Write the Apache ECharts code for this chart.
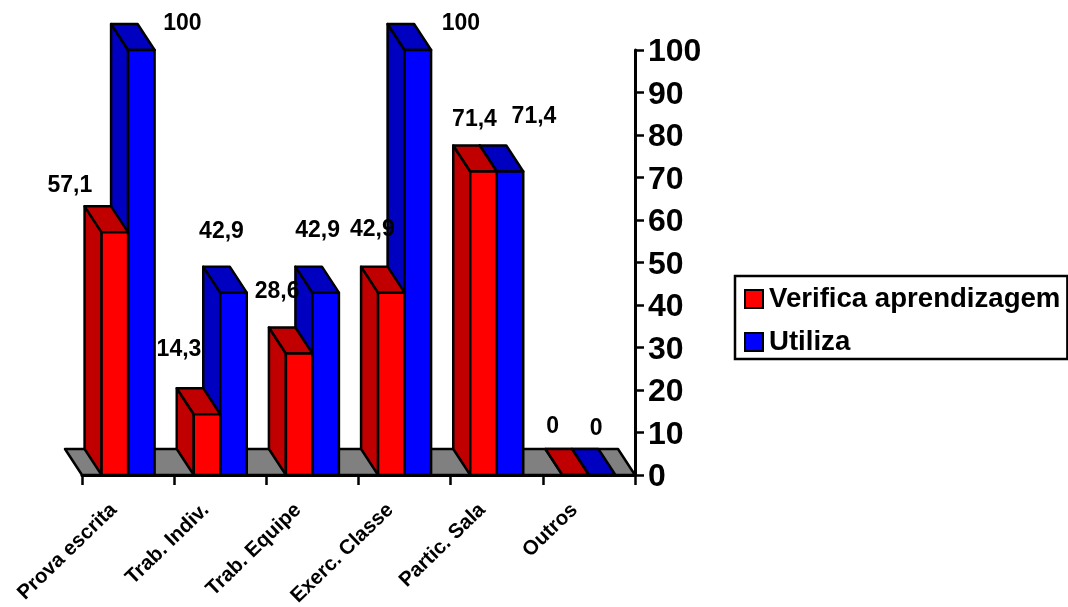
<!DOCTYPE html>
<html><head><meta charset="utf-8">
<style>html,body{margin:0;padding:0;background:#fff}#c{width:1068px;height:607px}</style>
<script src="https://cdn.jsdelivr.net/npm/echarts@6/dist/echarts.min.js"></script>
</head><body><div id="c"></div>
<script>
const categories = ['Prova escrita','Trab. Indiv.','Trab. Equipe','Exerc. Classe','Partic. Sala','Outros'];
const verifica = [57.1,14.3,28.6,42.9,71.4,0];
const utiliza = [100,42.9,42.9,100,71.4,0];
const valueTicks = {min:0,max:100,interval:10};

// label placement relative to each bar's front top centre (layout, not data)
const nudgeVerifica = [[-45,-47],[-28,-65],[-22,-62],[-19,-63],[-9,-52],[-23,-48]];
const nudgeUtiliza = [[41,-26],[-12,-61],[-8,-62],[43,-26],[24,-55],[-6,-46]];

const FONT = '"Liberation Sans", Arial, sans-serif';
const DX = -17, DY = -26, BAR_RATIO = 0.2875;

function fmt(v){ return String(v).replace('.',','); }
function bar3d(side, front, dark, nudge){
  return function(params, api){
    const i = api.value(0), v = api.value(1);
    const p = api.coord([i, v]), b = api.coord([i, 0]);
    const w = api.size([1,0])[0] * BAR_RATIO;
    const x0 = side < 0 ? p[0]-w : p[0], x1 = x0 + w;
    const yt = p[1], yb = b[1];
    const st = (fill)=>({fill, stroke:'#000', lineWidth:2.5, lineJoin:'round'});
    const n = nudge[i];
    return {type:'group', children:[
      {type:'polygon', shape:{points:[[x0,yt],[x0,yb],[x0+DX,yb+DY],[x0+DX,yt+DY]]}, style:st(dark)},
      {type:'polygon', shape:{points:[[x0,yt],[x1,yt],[x1+DX,yt+DY],[x0+DX,yt+DY]]}, style:st(dark)},
      {type:'rect', shape:{x:x0,y:yt,width:w,height:yb-yt}, style:st(front)},
      {type:'text', z2:50, style:{x:(x0+x1)/2+n[0], y:yt+n[1], text:fmt(v), align:'center', verticalAlign:'middle',
        fill:'#000', font:'bold 23px '+FONT}}
    ]};
  };
}
function floor(params, api){
  const c = params.coordSys, y = c.y + c.height, l = c.x, r = c.x + c.width;
  return {type:'polygon', shape:{points:[[l,y],[r,y],[r+DX,y+DY],[l+DX,y+DY]]},
    style:{fill:'#808080', stroke:'#000', lineWidth:2.5, lineJoin:'round'}};
}
const catIdx = categories.map((_,i)=>i);
const chart = echarts.init(document.getElementById('c'), null, {renderer:'canvas'});
chart.setOption({
  animation:false,
  backgroundColor:'#fff',
  grid:{left:82, right:433, top:50, bottom:132, containLabel:false, outerBoundsMode:'none'},
  legend:{
    data:['Verifica aprendizagem','Utiliza'], orient:'vertical', left:735, top:276,
    padding:[9,7,3,9], itemGap:15, itemWidth:18, itemHeight:18, icon:'rect',
    borderColor:'#000', borderWidth:2.5, selectedMode:false,
    itemStyle:{borderColor:'#000', borderWidth:2},
    textStyle:{fontFamily:FONT, fontWeight:'bold', fontSize:27.6, color:'#000', padding:[0,0,0,1]}
  },
  xAxis:{type:'category', data:categories, z:6, position:'bottom',
    axisLine:{lineStyle:{color:'#000',width:3}},
    axisTick:{show:true, alignWithLabel:false, length:10, lineStyle:{color:'#000',width:2.5}},
    axisLabel:{show:true, rotate:44, interval:0, margin:18, padding:[0,20,0,0], fontFamily:FONT, fontWeight:'bold', fontSize:20.5, color:'#000'}},
  yAxis:{type:'value', position:'right', min:valueTicks.min, max:valueTicks.max, interval:valueTicks.interval, z:6,
    splitLine:{show:false},
    axisLine:{show:true, lineStyle:{color:'#000',width:3}},
    axisTick:{show:true, length:9, lineStyle:{color:'#000',width:2.5}},
    axisLabel:{margin:13, verticalAlign:'top', lineHeight:5, fontFamily:FONT, fontWeight:'bold', fontSize:32, color:'#000'}},
  series:[
    {type:'custom', name:'floor', silent:true, renderItem:floor, data:[[0,0]], encode:{x:0,y:1}, clip:false},
    {type:'custom', name:'Utiliza', itemStyle:{color:'#0000FF'}, clip:false,
     renderItem:bar3d(1,'#0000FF','#0000C0',nudgeUtiliza), encode:{x:0,y:1},
     data:catIdx.map(i=>[i,utiliza[i]])},
    {type:'custom', name:'Verifica aprendizagem', itemStyle:{color:'#FF0000'}, clip:false,
     renderItem:bar3d(-1,'#FF0000','#C00000',nudgeVerifica), encode:{x:0,y:1},
     data:catIdx.map(i=>[i,verifica[i]])}
  ]
});
</script></body></html>
